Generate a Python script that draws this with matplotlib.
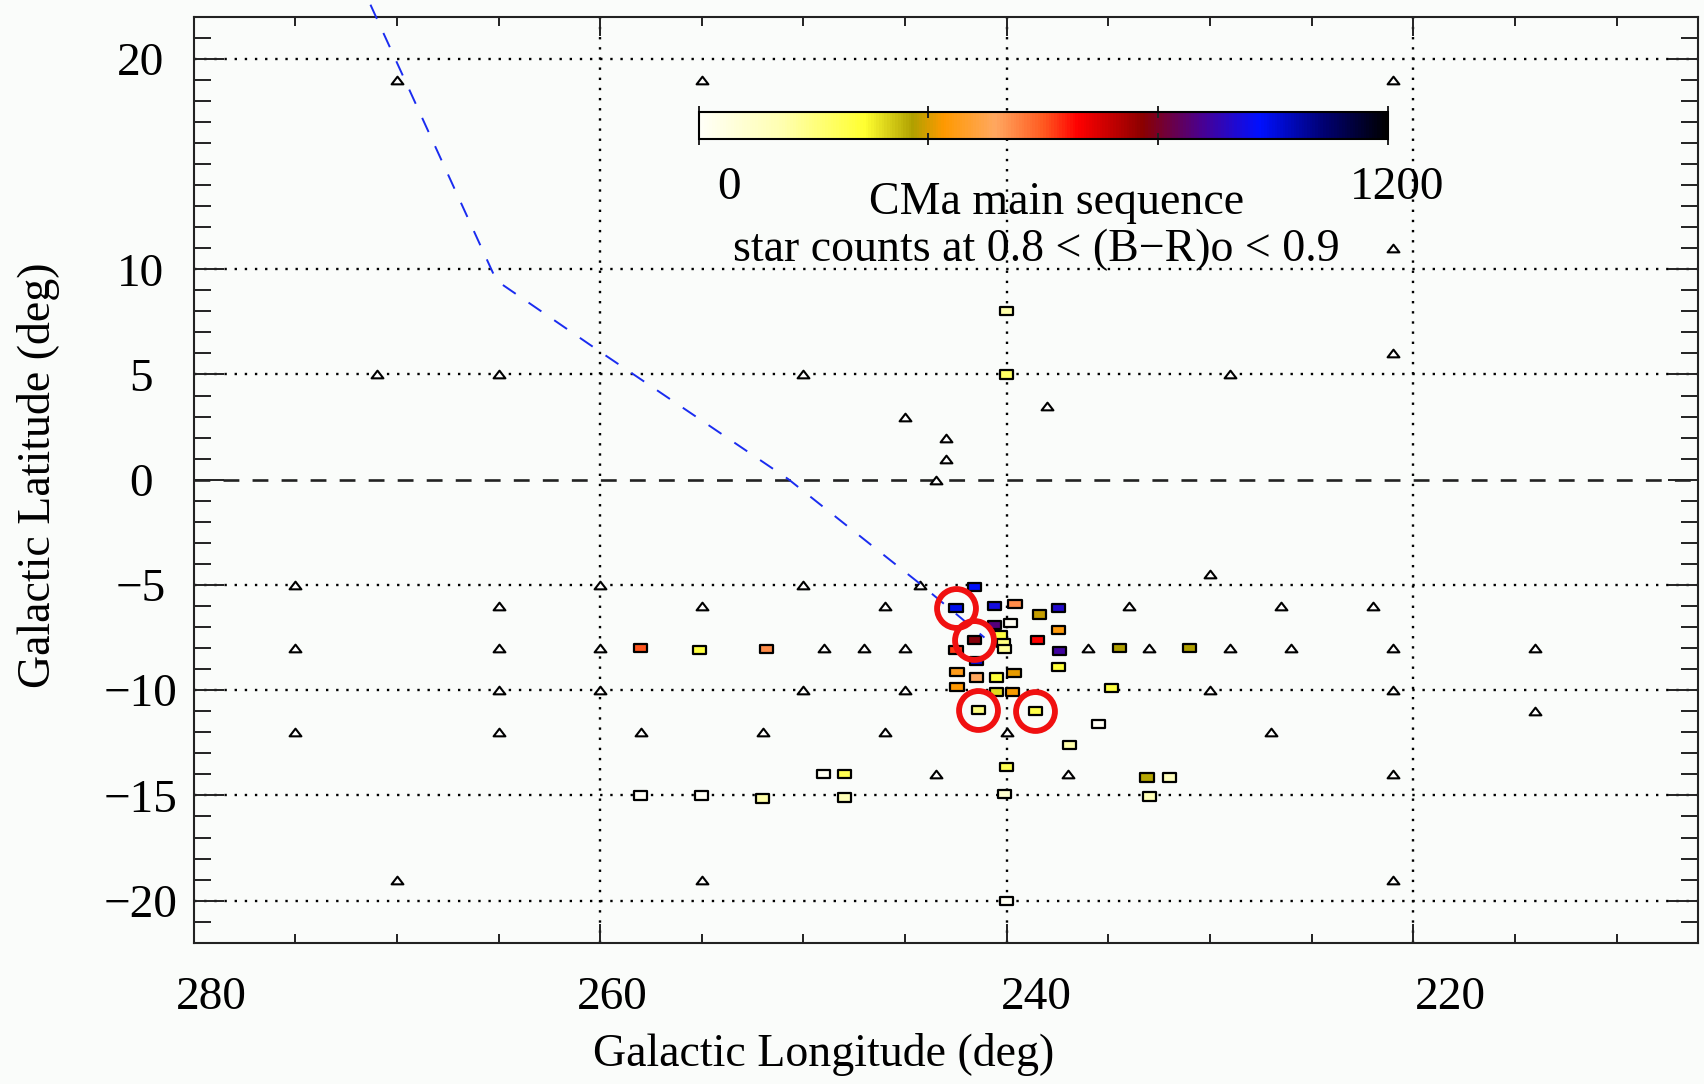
import numpy as np
import matplotlib.pyplot as plt
from matplotlib.colors import LinearSegmentedColormap
from matplotlib.path import Path
from matplotlib.transforms import ScaledTranslation

plt.rcParams['font.family'] = ['Liberation Serif', 'DejaVu Serif']

# fields without a CMa main sequence signal (open triangles)
tri_l = [270, 255, 221, 221, 221, 271, 265, 250, 229, 245, 238, 243, 243, 243.5,
         275, 260, 250, 244.25, 230,
         265, 255, 246, 234, 226.5, 222,
         275, 265, 260, 249, 247, 245, 236, 233, 229, 226, 221, 214,
         265, 260, 250, 245, 230, 221,
         214,
         275, 265, 258, 252, 246, 240, 227,
         243.5, 237, 221,
         270, 255, 221]
tri_b = [19, 19, 19, 11, 6, 5, 5, 5, 5, 3, 3.5, 2, 1, 0,
         -5, -5, -5, -5, -4.5,
         -6, -6, -6, -6, -6, -6,
         -8, -8, -8, -8, -8, -8, -8, -8, -8, -8, -8, -8,
         -10, -10, -10, -10, -10, -10,
         -11,
         -12, -12, -12, -12, -12, -12, -12,
         -14, -14, -14,
         -19, -19, -19]

# fields with star counts (filled rectangles)
sq_l = [241.6, 242.5, 240.6, 239.6, 238.4, 237.45, 240.6, 239.8, 240.3, 237.45,
        241.6, 238.5, 242.5, 241.5, 240.15, 240.1, 237.4, 234.45, 231.0, 237.45,
        242.45, 241.5, 240.5, 239.65, 242.45, 240.5, 239.7, 234.85, 241.4, 238.6,
        235.5, 236.9, 240.0, 233.1, 232.0, 240.1, 233.0, 240.0, 240.0, 240.0,
        258.0, 255.1, 251.8, 258.0, 255.0, 252.0, 249.0, 248.0, 248.0]
sq_b = [-5.1, -6.1, -6.0, -5.9, -6.4, -6.1, -6.9, -6.8, -7.4, -7.15,
        -7.6, -7.6, -8.1, -8.6, -7.75, -8.05, -8.15, -8.0, -8.0, -8.9,
        -9.15, -9.4, -9.4, -9.2, -9.85, -10.1, -10.1, -9.9, -10.95, -11.0,
        -11.6, -12.6, -13.65, -14.15, -14.15, -14.95, -15.05, 8.0, 5.0, -20.0,
        -8.0, -8.1, -8.05, -15.0, -15.0, -15.15, -14.0, -14.0, -15.1]
sq_n = [980, 990, 950, 545, 385, 930, 860, 10, 270, 440,
        780, 660, 620, 1000, 200, 170, 890, 372, 372, 280,
        450, 515, 280, 410, 430, 320, 420, 270, 200, 260,
        5, 150, 250, 370, 120, 80, 130, 150, 230, 10,
        600, 270, 545, 5, 5, 150, 15, 250, 130]

# highlighted fields
ring_l = [242.5, 241.6, 241.4, 238.6]
ring_b = [-6.1, -7.6, -10.95, -11.0]

# dashed blue track across the plane
track_l = [271.3, 265.1, 259.85, 250.75, 244.34, 241.1]
track_b = [22.57, 9.46, 5.98, 0.03, -4.89, -7.5]

x_major = [280, 260, 240, 220]
x_minor = [275, 270, 265, 255, 250, 245, 235, 230, 225, 215, 210]
y_major = [20, 10, 5, 0, -5, -10, -15, -20]
y_minor = [v for v in range(-21, 22) if v not in y_major]

cmap_pos = [0.0, 0.12, 0.24, 0.31, 0.355, 0.43, 0.50, 0.55, 0.645, 0.73, 0.815, 0.91, 1.0]
cmap_col = ['#fffff8', '#ffffb0', '#ffff30', '#b0a000', '#ff9900', '#ffa860', '#ff5a20',
            '#ff0000', '#8b0000', '#4a0090', '#0010ff', '#000070', '#000000']
cmap = LinearSegmentedColormap.from_list('cma', list(zip(cmap_pos, cmap_col)))

bg = '#fafcfa'
fig = plt.figure(figsize=(17.04, 10.84), dpi=100, facecolor=bg)
ax = fig.add_axes([0.1136, 0.1303, 0.8829, 0.8543], facecolor=bg)

ax.set_xlim(280, 206)
ax.set_ylim(-22, 22)

# grid: dotted at the labelled values, dashed along b = 0
for v in x_major[1:]:
    ax.axvline(v, color='black', lw=1.7, ls=(0, (1, 3.3)), zorder=1)
for v in y_major:
    if v == 0:
        ax.axhline(v, color='#222222', lw=1.9, ls=(0, (6, 5)), zorder=1)
    else:
        ax.axhline(v, color='black', lw=1.7, ls=(0, (1, 3.3)), zorder=1)

tri = Path([(-1, -0.65), (1, -0.65), (0, 0.65), (-1, -0.65)],
           [Path.MOVETO, Path.LINETO, Path.LINETO, Path.CLOSEPOLY])
rect = Path([(-1, -0.62), (1, -0.62), (1, 0.62), (-1, 0.62), (-1, -0.62)],
            [Path.MOVETO, Path.LINETO, Path.LINETO, Path.LINETO, Path.CLOSEPOLY])

ax.scatter(tri_l, tri_b, marker=tri, s=8.5**2, facecolors='white',
           edgecolors='black', linewidths=1.5, zorder=3)
sc = ax.scatter(sq_l, sq_b, marker=rect, s=9.5**2, c=sq_n, cmap=cmap, vmin=0, vmax=1200,
                edgecolors='black', linewidths=1.6, zorder=4)

ax.plot(track_l, track_b, color='#1a2cf0', lw=1.4, ls=(0, (8, 8)), zorder=5, clip_on=False)

ax.plot(ring_l, ring_b, 'o', ms=28, mfc='none', mec='#f01010', mew=4.2, zorder=6)

# axes frame and ticks
for s in ax.spines.values():
    s.set_linewidth(1.5)
    s.set_color('#222222')
ax.set_xticks(x_major)
ax.set_xticks(x_minor, minor=True)
ax.set_yticks(y_major)
ax.set_yticks(y_minor, minor=True)
ax.set_xticklabels([str(v) for v in x_major])
ax.set_yticklabels([str(v).replace('-', '\u2212') for v in y_major])
ax.tick_params(axis='x', which='major', direction='in', length=14, width=1.4,
               top=True, bottom=True, labelsize=34, pad=24, color='#222222')
ax.tick_params(axis='x', which='minor', direction='in', length=6.5, width=1.4,
               top=True, bottom=True, color='#222222')
ax.tick_params(axis='y', which='major', direction='in', length=21.5, width=1.4,
               left=True, right=True, labelsize=34, pad=38, color='#222222')
ax.tick_params(axis='y', which='minor', direction='in', length=12, width=1.4,
               left=True, right=True, color='#222222')
for lab in ax.get_yticklabels():
    lab.set_horizontalalignment('center')
x_shift = [13, 8.6, 21.6, 26.6]
for lab, dx in zip(ax.get_xticklabels(), x_shift):
    lab.set_transform(lab.get_transform() + ScaledTranslation(dx / 72, 0, fig.dpi_scale_trans))

ax.set_xlabel('Galactic Longitude (deg)', fontsize=33, va='center')
ax.xaxis.set_label_coords(0.419, -0.121)
ax.set_ylabel('Galactic Latitude (deg)', fontsize=33, va='center')
ax.yaxis.set_label_coords(-0.1034, 0.505)

# colour bar inside the frame
cax = fig.add_axes([0.410, 0.8718, 0.4044, 0.0249])
cb = fig.colorbar(sc, cax=cax, orientation='horizontal')
cb.outline.set_linewidth(1.5)
cb.set_ticks([0, 400, 800, 1200])
cb.set_ticklabels(['0', '', '', '1200'])
cax.tick_params(axis='x', direction='inout', length=9, width=1.4, top=True, bottom=True,
                labelsize=34, pad=15, color='#222222')
for lab, dx in zip(cax.get_xticklabels(), [22, 0, 0, 7]):
    lab.set_transform(lab.get_transform() + ScaledTranslation(dx / 72, 0, fig.dpi_scale_trans))

fig.text(1057 / 1704, 1 - 203 / 1084, 'CMa main sequence', fontsize=33,
         ha='center', va='center')
fig.text(1036 / 1704, 1 - 250 / 1084, 'star counts at 0.8 < (B\u2212R)o < 0.9', fontsize=33,
         ha='center', va='center')

fig.savefig('out.png', dpi=100, facecolor=bg)
